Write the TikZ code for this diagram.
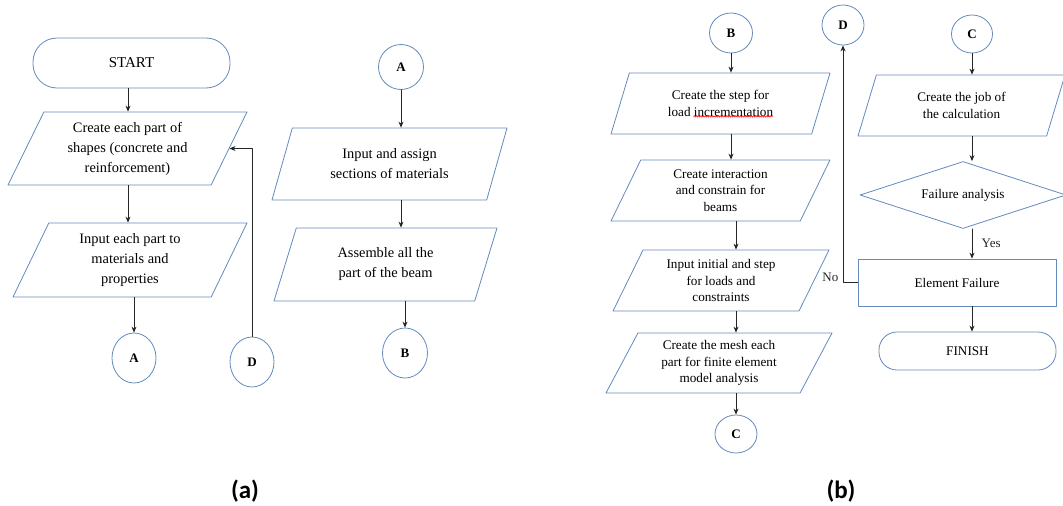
\documentclass[tikz,border=0pt]{standalone}
\usepackage{fontspec}
\setmainfont{Liberation Serif}
\newfontfamily\capfont{Carlito}
\usepackage{tikz}
\usetikzlibrary{arrows.meta,shapes.geometric,decorations.pathmorphing}
\definecolor{boxblue}{RGB}{98,138,188}

\begin{document}
\begin{tikzpicture}[line cap=round,line join=round,>={Stealth[length=6pt,width=5pt]}
  ,x=1pt,y=-1pt
  ,flow/.style={draw=boxblue,line width=0.8pt,align=center,inner sep=0pt}
  ,paraA/.style={flow,trapezium,trapezium stretches body,
    trapezium left angle=56,trapezium right angle=124,
    font=\fontsize{14.4}{20}\selectfont}
  ,paraB/.style={flow,trapezium,trapezium stretches body,
    trapezium left angle=55,trapezium right angle=125,
    font=\fontsize{13.2}{16.8}\selectfont}
  ,conn/.style={flow,ellipse,font=\bfseries\fontsize{13}{15}\selectfont}
  ,term/.style={flow,rectangle,rounded corners=#1}
  ,arr/.style={->,line width=0.8pt,black!85}
  ,lbl/.style={font=\fontsize{13}{15}\selectfont}]
  \useasboundingbox (0,0) rectangle (1063,506);
  % (a) first column
  \node[term=24pt,minimum width=197,minimum height=50,
    font=\fontsize{15}{17}\selectfont] (start) at (131.5,63) {START};
  \node[paraA,minimum width=239,minimum height=73] (shapes) at (127.5,148.5)
    {Create each part of\\shapes (concrete and\\reinforcement)};
  \node[paraA,minimum width=234,minimum height=74] (props) at (130,260)
    {Input each part to\\materials and\\properties};
  \node[conn,minimum width=44,minimum height=50] (Aout) at (134,358) {A};
  \node[conn,minimum width=44,minimum height=50] (Din) at (252,362) {D};
  % (a) second column
  \node[conn,minimum width=45,minimum height=45] (Ain) at (401,67) {A};
  \node[paraA,minimum width=235,minimum height=72] (sect) at (389.5,164)
    {Input and assign\\sections of materials};
  \node[paraA,minimum width=223,minimum height=73] (asm) at (385.5,264.5)
    {Assemble all the\\part of the beam};
  \node[conn,minimum width=45,minimum height=50] (Bout) at (405,353) {B};
  % (b) first column
  \node[conn,minimum width=43,minimum height=40] (Bin) at (731,33) {B};
  \node[paraB,minimum width=219,minimum height=61] (stepld) at (720.5,103.5)
    {Create the step for\\load incrementation};
  \node[paraB,minimum width=219,minimum height=61] (inter) at (720.5,190.5)
    {Create interaction\\and constrain for\\beams};
  \node[paraB,minimum width=216,minimum height=61] (loads) at (721,280.5)
    {Input initial and step\\for loads and\\constraints};
  \node[paraB,minimum width=226,minimum height=60] (mesh) at (719,363)
    {Create the mesh each\\part for finite element\\model analysis};
  \node[conn,minimum width=42,minimum height=38] (Cout) at (736,434) {C};
  % (b) second column
  \node[conn,minimum width=42,minimum height=40] (Dout) at (843,25) {D};
  \node[conn,minimum width=41,minimum height=38] (Cin) at (972,34) {C};
  \node[paraB,minimum width=207,minimum height=61] (job) at (961.5,105.5)
    {Create the job of\\the calculation};
  \node[flow,diamond,shape aspect=3.07,minimum width=206,minimum height=67,
    font=\fontsize{13.2}{15}\selectfont] (fail) at (963,195) {Failure analysis};
  \node[flow,rectangle,minimum width=198,minimum height=47,
    font=\fontsize{13.2}{15}\selectfont] (elem) at (957,282.5) {Element Failure};
  \node[term=18pt,minimum width=177,minimum height=38,
    font=\fontsize{13.2}{15}\selectfont] (finish) at (967.5,351) {FINISH};
  % spell-check mark
  \draw[red,line width=0.5pt,decorate,decoration={snake,segment length=2.2pt,amplitude=0.7pt}]
    ([shift={(-27,13)}]stepld.center) -- ++(79,0);
  % arrows (a)
  \draw[arr] (start.south -| 128,0) -- (shapes.north -| 128,0);
  \draw[arr] (shapes.south -| 128,0) -- (props.north -| 128,0);
  \draw[arr] (props.south -| Aout) -- (Aout.north);
  \draw[arr] (Din.north) |- (shapes.east);
  \draw[arr] (Ain.south) -- (sect.north -| Ain);
  \draw[arr] (sect.south -| Ain) -- (asm.north -| Ain);
  \draw[arr] (asm.south -| Bout) -- (Bout.north);
  % arrows (b)
  \draw[arr] (Bin.south) -- (stepld.north -| Bin);
  \draw[arr] (stepld.south -| Bin) -- (inter.north -| Bin);
  \draw[arr] (inter.south -| Cout) -- (loads.north -| Cout);
  \draw[arr] (loads.south -| Cout) -- (mesh.north -| Cout);
  \draw[arr] (mesh.south -| Cout) -- (Cout.north);
  \draw[arr] (Cin.south) -- (job.north -| Cin);
  \draw[arr] (job.south -| Cin) -- (fail.north -| Cin);
  \draw[arr] (fail.south -| Cin) -- node[lbl,right=6pt] {Yes} (elem.north -| Cin);
  \draw[arr] (elem.south -| Cin) -- (finish.north -| Cin);
  \draw[arr] (elem.west) -| node[lbl,pos=0.51,left=1pt] {No} (Dout.south);
  % captions
  \node[font=\capfont\bfseries\fontsize{25}{28}\selectfont] (capa) at (245,491) {(a)};
  \node[font=\capfont\bfseries\fontsize{25}{28}\selectfont] (capb) at (841,491) {(b)};
\end{tikzpicture}
\end{document}
